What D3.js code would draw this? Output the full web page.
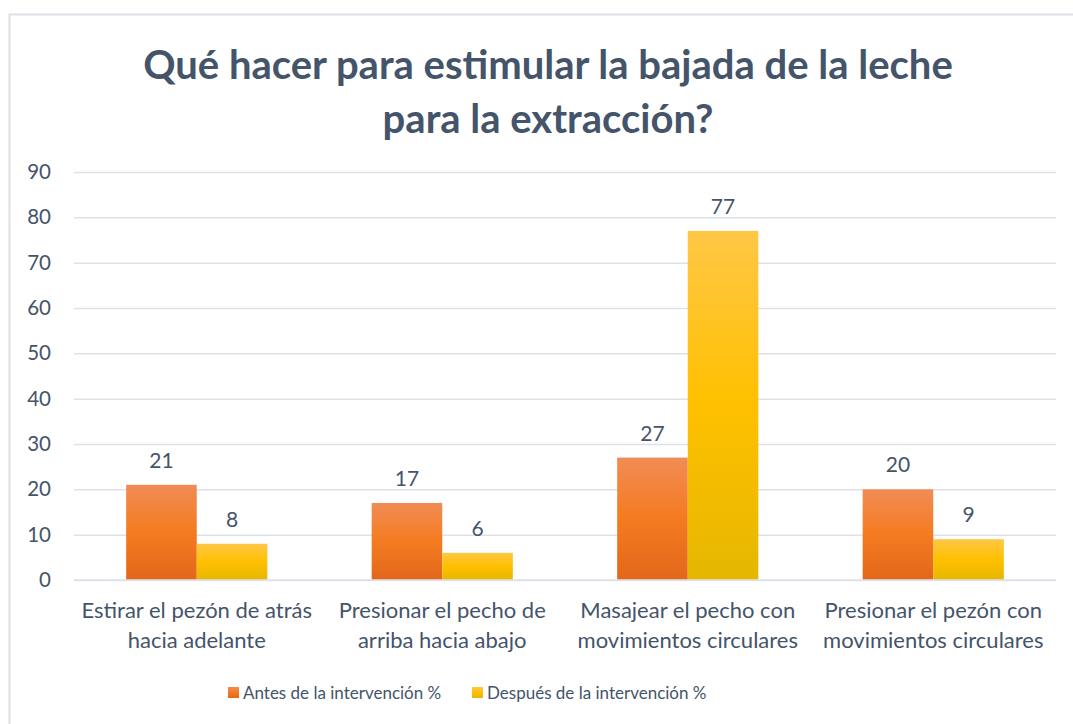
<!DOCTYPE html>
<html>
<head>
<meta charset="utf-8">
<script src="https://cdn.jsdelivr.net/npm/d3@7"></script>
<style>
  body { margin: 0; background: #fff; }
  text { font-family: Lato, "Open Sans", sans-serif; }
</style>
</head>
<body>
<div id="chart"></div>
<script>
var categories = [
  ["Estirar el pezón de atrás", "hacia adelante"],
  ["Presionar el pecho de", "arriba hacia abajo"],
  ["Masajear el pecho con", "movimientos circulares"],
  ["Presionar el pezón con", "movimientos circulares"]
];
var antes = [21, 17, 27, 20];
var despues = [8, 6, 77, 9];
var seriesNames = ["Antes de la intervención %", "Después de la intervención %"];
var yTicks = [0, 10, 20, 30, 40, 50, 60, 70, 80, 90];
var titleLines = ["Qué hacer para estimular la bajada de la leche", "para la extracción?"];

var width = 1073, height = 724;
var margin = {left: 74, right: 17, top: 172, bottom: 144};
var textColor = "#44546A";

var svg = d3.select("#chart").append("svg")
    .attr("width", width)
    .attr("height", height);

var defs = svg.append("defs");
function grad(id, stops) {
  var g = defs.append("linearGradient").attr("id", id)
      .attr("x1", 0).attr("y1", 0).attr("x2", 0).attr("y2", 1);
  stops.forEach(function (s) {
    g.append("stop").attr("offset", s[0]).attr("stop-color", s[1]);
  });
}
grad("gOrange", [[0, "#F18C55"], [0.5, "#F47B20"], [1, "#E2671B"]]);
grad("gYellow", [[0, "#FFC746"], [0.5, "#FFC000"], [1, "#E5B700"]]);
var fills = ["url(#gOrange)", "url(#gYellow)"];

// chart frame
svg.append("rect")
    .attr("x", 9.5).attr("y", 14.5)
    .attr("width", width + 10).attr("height", height + 10)
    .attr("fill", "none")
    .attr("stroke", "#DCE0E6")
    .attr("stroke-width", 2);

// title
svg.append("g").selectAll("text")
    .data(titleLines)
  .enter().append("text")
    .attr("x", 548)
    .attr("y", function (d, i) { return 79 + i * 54; })
    .attr("text-anchor", "middle")
    .attr("font-size", 40)
    .attr("font-weight", "bold")
    .attr("fill", textColor)
    .text(function (d) { return d; });

var x0 = d3.scaleBand()
    .domain(d3.range(categories.length))
    .range([margin.left, width - margin.right])
    .paddingInner(0.425)
    .paddingOuter(0.2125);

var x1 = d3.scaleBand()
    .domain([0, 1])
    .range([0, x0.bandwidth()]);

var y = d3.scaleLinear()
    .domain([0, 90])
    .range([height - margin.bottom, margin.top]);

// gridlines
svg.append("g")
    .attr("transform", "translate(" + margin.left + ",0)")
    .call(d3.axisLeft(y).tickValues(yTicks)
      .tickSize(-(width - margin.left - margin.right))
      .tickFormat(function (d) { return d; })
      .tickPadding(23))
    .call(function (g) {
      g.select(".domain").remove();
      g.selectAll(".tick line").attr("stroke", "#DEE2E8").attr("stroke-width", 1.5);
      g.selectAll(".tick text")
        .attr("fill", textColor)
        .attr("font-size", 20.5)
        .attr("font-family", "Lato, sans-serif");
    });

var rows = categories.map(function (c, i) { return [antes[i], despues[i]]; });

var groups = svg.append("g").selectAll("g")
    .data(rows)
  .enter().append("g")
    .attr("transform", function (d, i) { return "translate(" + x0(i) + ",0)"; });

groups.selectAll("rect")
    .data(function (d) { return d; })
  .enter().append("rect")
    .attr("x", function (d, j) { return x1(j); })
    .attr("y", function (d) { return y(d); })
    .attr("width", x1.bandwidth())
    .attr("height", function (d) { return y(0) - y(d); })
    .attr("fill", function (d, j) { return fills[j]; });

groups.selectAll("text.val")
    .data(function (d) { return d; })
  .enter().append("text")
    .attr("class", "val")
    .attr("x", function (d, j) { return x1(j) + x1.bandwidth() / 2; })
    .attr("y", function (d) { return y(d) - 17; })
    .attr("text-anchor", "middle")
    .attr("font-size", 21)
    .attr("fill", textColor)
    .text(function (d) { return d; });

// baseline
svg.append("line")
    .attr("x1", margin.left).attr("x2", width - margin.right)
    .attr("y1", y(0)).attr("y2", y(0))
    .attr("stroke", "#DEE2E8").attr("stroke-width", 1.5);

// category labels
var catG = svg.append("g").selectAll("text")
    .data(categories)
  .enter().append("text")
    .attr("x", function (d, i) { return x0(i) + x0.bandwidth() / 2; })
    .attr("text-anchor", "middle")
    .attr("font-size", 22)
    .attr("fill", textColor);
catG.selectAll("tspan")
    .data(function (d) { return d; })
  .enter().append("tspan")
    .attr("x", function () { return d3.select(this.parentNode).attr("x"); })
    .attr("y", function (d, k) { return 618 + k * 30; })
    .text(function (d) { return d; });

// legend
var legendX = [228, 472];
var leg = svg.append("g").selectAll("g")
    .data(seriesNames)
  .enter().append("g")
    .attr("transform", function (d, i) { return "translate(" + legendX[i] + ",687)"; });
leg.append("rect")
    .attr("width", 11).attr("height", 11)
    .attr("fill", function (d, i) { return fills[i]; });
leg.append("text")
    .attr("x", 15).attr("y", 12)
    .attr("font-size", 17)
    .attr("fill", textColor)
    .text(function (d) { return d; });
</script>
</body>
</html>
